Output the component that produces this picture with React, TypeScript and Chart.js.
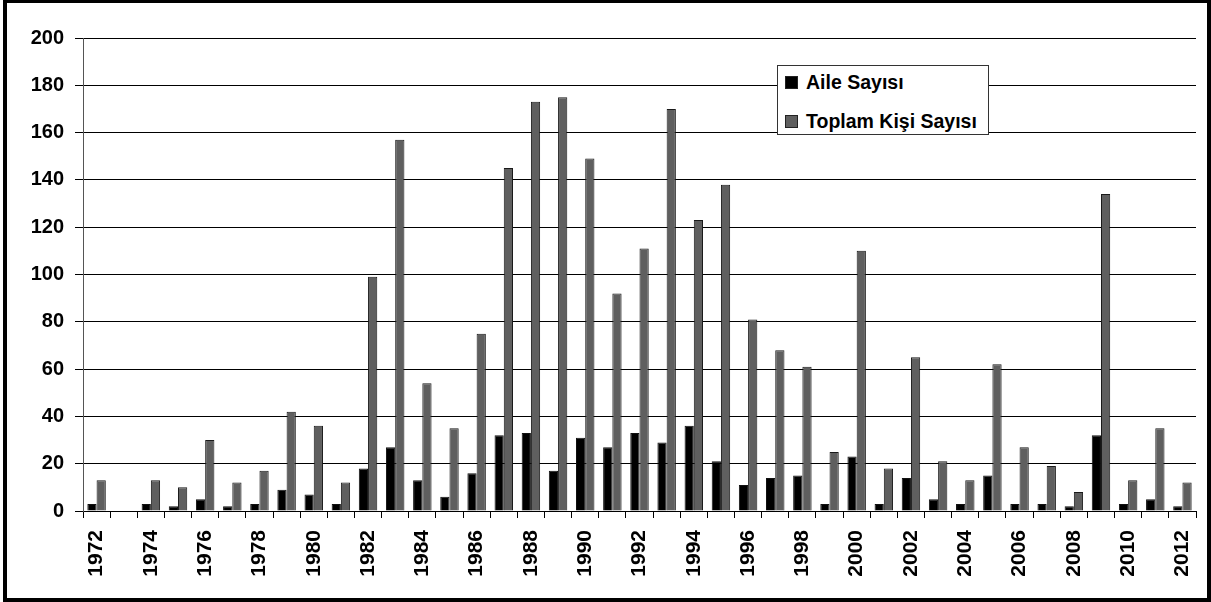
import React, { useEffect, useRef } from "react";
import { Chart, registerables } from "chart.js";

Chart.register(...registerables);

const years: string[] = [
  "1972", "1973", "1974", "1975", "1976", "1977", "1978", "1979", "1980", "1981",
  "1982", "1983", "1984", "1985", "1986", "1987", "1988", "1989", "1990", "1991",
  "1992", "1993", "1994", "1995", "1996", "1997", "1998", "1999", "2000", "2001",
  "2002", "2003", "2004", "2005", "2006", "2007", "2008", "2009", "2010", "2011", "2012",
];

const aileSayisi: number[] = [
  3, 0, 3, 2, 5, 2, 3, 9, 7, 3,
  18, 27, 13, 6, 16, 32, 33, 17, 31, 27,
  33, 29, 36, 21, 11, 14, 15, 3, 23, 3,
  14, 5, 3, 15, 3, 3, 2, 32, 3, 5, 2,
];

const toplamKisiSayisi: number[] = [
  13, 0, 13, 10, 30, 12, 17, 42, 36, 12,
  99, 157, 54, 35, 75, 145, 173, 175, 149, 92,
  111, 170, 123, 138, 81, 68, 61, 25, 110, 18,
  65, 21, 13, 62, 27, 19, 8, 134, 13, 35, 12,
];

const seriesNames: string[] = ["Aile Sayısı", "Toplam Kişi Sayısı"];
const yTicks = { min: 0, max: 200, step: 20 };

const FONT = "'Liberation Sans', Arial, Helvetica, sans-serif";
const GRAY = "#5f5f5f";

export default function App() {
  const canvasRef = useRef<HTMLCanvasElement | null>(null);

  useEffect(() => {
    const canvas = canvasRef.current;
    if (!canvas) return;
    const chart = new Chart(canvas, {
      type: "bar",
      data: {
        labels: years,
        datasets: [
          {
            label: seriesNames[0],
            data: aileSayisi,
            backgroundColor: "#000000",
            borderColor: "#111111",
            borderWidth: 1,
            categoryPercentage: 0.68,
            barPercentage: 1.0,
          },
          {
            label: seriesNames[1],
            data: toplamKisiSayisi,
            backgroundColor: GRAY,
            borderColor: "#1a1a1a",
            borderWidth: 1,
            categoryPercentage: 0.68,
            barPercentage: 1.0,
          },
        ],
      },
      options: {
        responsive: false,
        animation: false,
        maintainAspectRatio: false,
        layout: { padding: { left: 0, top: 38, right: 15, bottom: 0 } },
        plugins: {
          legend: { display: false },
          tooltip: { enabled: false },
        },
        scales: {
          x: {
            offset: true,
            grid: {
              display: true,
              offset: true,
              drawOnChartArea: false,
              drawTicks: true,
              tickLength: 7,
              color: "#000000",
            },
            border: { display: true, color: "#000000", width: 1 },
            ticks: {
              autoSkip: false,
              minRotation: 90,
              maxRotation: 90,
              padding: 12,
              color: "#000000",
              font: { family: FONT, size: 21, weight: "bold" },
              callback: (_v: any, i: number) => (i % 2 === 0 ? years[i] : ""),
            },
            afterFit: (scale: any) => {
              scale.height = 91;
              scale.paddingLeft = 0;
              scale.paddingRight = 0;
            },
          },
          y: {
            min: yTicks.min,
            max: yTicks.max,
            grid: {
              color: "#000000",
              lineWidth: 1,
              drawTicks: true,
              tickLength: 8,
            },
            border: { display: true, color: "#555555", width: 1 },
            ticks: {
              stepSize: yTicks.step,
              padding: 11,
              color: "#000000",
              font: { family: FONT, size: 20, weight: "bold" },
            },
            afterFit: (scale: any) => {
              scale.width = 83;
            },
          },
        },
      },
    });
    return () => chart.destroy();
  }, []);

  const legendItem = (color: string, text: string, top: number) => (
    <div
      style={{
        position: "absolute",
        left: 7,
        top,
        height: 20,
        display: "flex",
        alignItems: "center",
        whiteSpace: "nowrap",
      }}
    >
      <div
        style={{
          width: 11,
          height: 11,
          background: color,
          border: "1px solid #222",
          marginRight: 8,
        }}
      />
      <span
        style={{
          fontFamily: FONT,
          fontWeight: "bold",
          fontSize: 19.5,
          color: "#000",
          lineHeight: "20px",
        }}
      >
        {text}
      </span>
    </div>
  );

  return (
    <div
      style={{
        position: "fixed",
        left: 0,
        top: 0,
        width: 1211,
        height: 602,
        background: "#fff",
      }}
    >
      <canvas
        ref={canvasRef}
        width={1211}
        height={602}
        style={{ position: "absolute", left: 0, top: 0, display: "block", width: 1211, height: 602 }}
      />
      <div
        style={{
          position: "absolute",
          left: 3,
          top: 0,
          width: 1208,
          height: 602,
          boxSizing: "border-box",
          borderStyle: "solid",
          borderColor: "#000",
          borderWidth: "3px 4px 4px 4px",
          pointerEvents: "none",
        }}
      />
      <div
        style={{
          position: "absolute",
          left: 777,
          top: 65,
          width: 210,
          height: 68,
          border: "1px solid #333",
          background: "#fff",
        }}
      >
        {legendItem("#000000", seriesNames[0], 6)}
        {legendItem(GRAY, seriesNames[1], 45)}
      </div>
    </div>
  );
}
